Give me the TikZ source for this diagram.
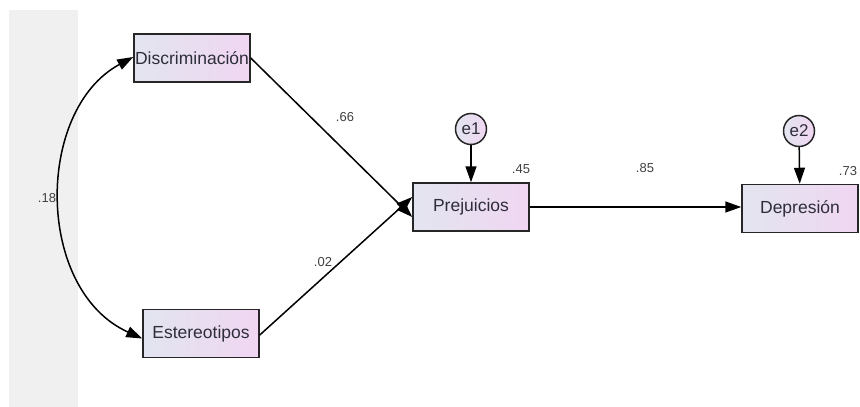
\documentclass[tikz,border=0pt]{standalone}
\usepackage{fontspec}
\setmainfont{Liberation Sans}
\usetikzlibrary{arrows.meta}
\definecolor{boxL}{HTML}{E2E5EF}
\definecolor{boxR}{HTML}{F0D6F2}
\definecolor{strip}{HTML}{F0F0F0}
\definecolor{txt}{HTML}{2E2E3A}
\tikzset{
  var/.style={draw=black!85, line width=1.5pt, left color=boxL, right color=boxR,
    minimum width=116pt, minimum height=48pt, inner sep=0pt,
    font=\fontsize{17.5}{19}\selectfont, text=txt},
  err/.style={circle, draw=black!85, line width=1.5pt, left color=boxL, right color=boxR,
    minimum size=31pt, inner sep=0pt, font=\fontsize{17}{19}\selectfont, text=txt},
  conn/.style={line width=1.5pt, -{Triangle[length=16pt,width=11pt]}},
  lab/.style={font=\fontsize{13}{15}\selectfont, text=black!75, inner sep=1pt}
}
\begin{document}
\begin{tikzpicture}[x=1pt,y=-1pt]
\useasboundingbox (0,0) rectangle (860,407);
\fill[strip] (9,10) rectangle (78,407);
\node[var] (D) at (192,58) {Discriminación};
\node[var] (E) at (201,333.5) {Estereotipos};
\node[var] (P) at (471,207) {Prejuicios};
\node[var] (Q) at (800,208.5) {Depresión};
\node[err] (e1) at (471,129) {e1};
\node[err] (e2) at (799,131) {e2};
\draw[line width=1.5pt, {Triangle[length=16pt,width=11pt]}-{Triangle[length=16pt,width=11pt]}]
  ([yshift=-5pt]E.west) .. controls (35,290) and (35,110) .. ([yshift=1pt]D.west);
\draw[conn] (D.east) -- ([yshift=-10pt]P.west);
\draw[conn] ([yshift=-1.5pt]E.east) -- ([yshift=10pt]P.west);
\draw[conn] (P.east) -- ([yshift=1.5pt]Q.west);
\draw[conn] (e1) -- (P);
\draw[conn] (e2) -- (Q);
\node[lab] (l18) at (47,198) {.18};
\node[lab] (l66) at (345,117) {.66};
\node[lab] (l02) at (323,262) {.02};
\node[lab] (l85) at (645,168) {.85};
\node[lab] (l45) at (521,169) {.45};
\node[lab] (l73) at (848,171) {.73};
\end{tikzpicture}
\end{document}
